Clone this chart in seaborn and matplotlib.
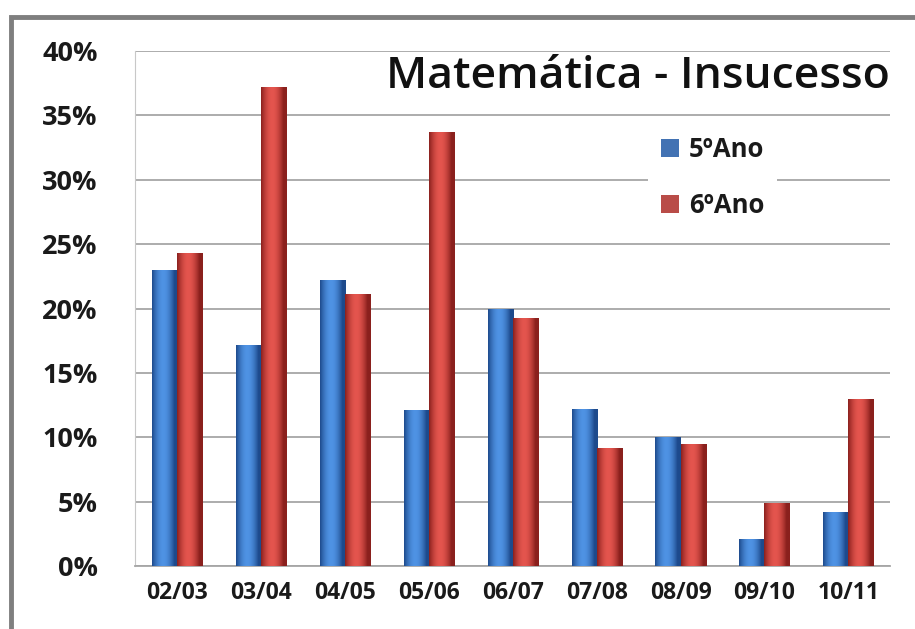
import matplotlib.pyplot as plt
import matplotlib.patches as mpatches
import matplotlib.ticker as mticker
import matplotlib.colors as mcolors
import numpy as np
import pandas as pd
import seaborn as sns

# data (percent)
anos = ['02/03', '03/04', '04/05', '05/06', '06/07', '07/08', '08/09', '09/10', '10/11']
ano5 = [23.0, 17.2, 22.2, 12.1, 20.0, 12.2, 10.0, 2.1, 4.2]
ano6 = [24.3, 37.2, 21.1, 33.7, 19.3, 9.2, 9.5, 4.9, 13.0]
series = ['5ºAno', '6ºAno']
cores = ['#2f6fc6', '#cc3a35']
# dark edge / light centre for the cylinder-like shading of the bars
sombras = [('#1d4a8c', '#4f93e4'), ('#8a201d', '#e4554e')]

df = pd.DataFrame({
    'ano': anos * 2,
    'valor': ano5 + ano6,
    'serie': [series[0]] * len(anos) + [series[1]] * len(anos),
})

sns.set_style('white')
plt.rcParams['font.family'] = ['Open Sans', 'DejaVu Sans']

fig = plt.figure(figsize=(9.15, 6.29), dpi=100)
ax = fig.add_axes([0.148, 0.100, 0.825, 0.819])

# grey frame around the whole chart
fig.patches.append(mpatches.Rectangle((0.012, -0.01), 0.99, 0.983, transform=fig.transFigure,
                                      fill=False, edgecolor='#7f7f7f', lw=3.5, zorder=0))

sns.barplot(data=df, x='ano', y='valor', hue='serie', palette=cores, width=0.6,
            linewidth=0, ax=ax, zorder=3)

# shade every bar with a horizontal gradient
t = np.linspace(0, 1, 64)
perfil = np.clip(np.sin(np.pi * np.clip(t * 1.15, 0, 1)) ** 0.9, 0, 1)
for cont, (escuro, claro) in zip(ax.containers, sombras):
    c0 = np.array(mcolors.to_rgb(escuro))
    c1 = np.array(mcolors.to_rgb(claro))
    grad = (c0[None, :] + (c1 - c0)[None, :] * perfil[:, None])[None, :, :]
    for b in cont:
        x, w, h = b.get_x(), b.get_width(), b.get_height()
        im = ax.imshow(grad, extent=(x, x + w, 0, h), aspect='auto', zorder=4,
                       interpolation='bilinear')
        im.set_clip_path(b)

ax.set_xlim(-0.5, len(anos) - 0.5)
ax.set_ylim(0, 40)
ax.yaxis.set_major_locator(mticker.MultipleLocator(5))
ax.yaxis.set_major_formatter(mticker.FuncFormatter(lambda v, p: f'{v:.0f}%'))
ax.grid(axis='y', color='#a6a6a6', lw=1.3, zorder=0)
ax.set_axisbelow(True)

for s in ['top', 'right']:
    ax.spines[s].set_visible(False)
ax.spines['left'].set_color('#c8c8c8')
ax.spines['bottom'].set_color('#a6a6a6')
ax.spines['bottom'].set_linewidth(1.3)

# tick marks between categories
ax.set_xticks(range(len(anos)))
ax.set_xticklabels(anos, fontsize=16.5, fontweight='bold', color='#1a1a1a')
ax.set_xticks([i - 0.5 for i in range(len(anos) + 1)], minor=True)
ax.tick_params(axis='x', which='major', length=0, pad=11)
ax.tick_params(axis='x', which='minor', length=5, color='#a6a6a6', direction='out')
ax.tick_params(axis='y', length=0, labelsize=19.5, pad=27)
for lbl in ax.get_yticklabels():
    lbl.set_fontweight('bold')
    lbl.set_color('#1a1a1a')
ax.set_xlabel('')
ax.set_ylabel('')

ax.text(1.0, 0.95, 'Matemática - Insucesso', transform=ax.transAxes, ha='right', va='center',
        fontsize=32, fontweight='semibold', color='#111111', zorder=5,
        bbox=dict(facecolor='white', edgecolor='none', pad=2))

leg = ax.legend(loc='upper left', bbox_to_anchor=(0.662, 0.885), frameon=True, fontsize=18.5,
                handlelength=0.7, handleheight=0.7, handletextpad=0.4, labelspacing=1.15,
                borderpad=0.5)
leg.get_frame().set_facecolor('white')
leg.get_frame().set_edgecolor('none')
leg.get_frame().set_alpha(1)
leg.set_zorder(6)
for txt in leg.get_texts():
    txt.set_fontweight('bold')
    txt.set_color('#1a1a1a')

fig.savefig('out.png', dpi=100)
